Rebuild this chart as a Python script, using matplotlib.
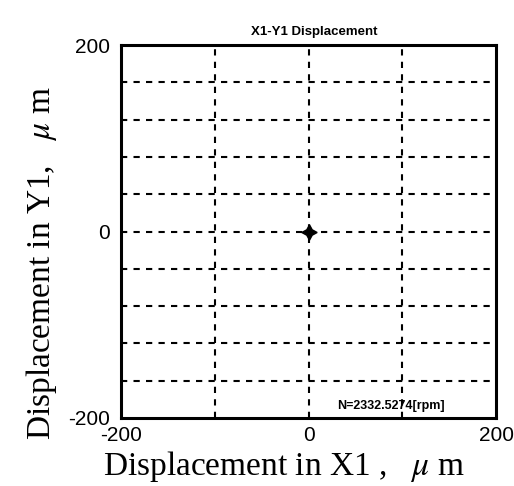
import numpy as np
import matplotlib
matplotlib.use('Agg')
import matplotlib.pyplot as plt

plt.rcParams['mathtext.fontset'] = 'stix'
plt.rcParams['axes.unicode_minus'] = False

# orbit data (the shaft sits at the origin)
x_disp = [0.0]
y_disp = [0.0]

x_ticks = [-200, 0, 200]
y_ticks = [-200, 0, 200]
x_grid = [-100, 0, 100]
y_grid = list(range(-160, 200, 40))

title = 'X1-Y1 Displacement'
note = 'N=2332.5274[rpm]'

fig = plt.figure(figsize=(5.14, 4.86), dpi=100)
ax = fig.add_axes([0.2354, 0.140, 0.7296, 0.767])

for g in x_grid:
    ax.axvline(g, color='black', linestyle=(0, (3, 3)), linewidth=1.5, zorder=1)
for g in y_grid:
    ax.axhline(g, color='black', linestyle=(0, (3, 3)), linewidth=1.5, zorder=1)

ax.plot(x_disp, y_disp, marker=(4, 1, 0), markersize=11, color='black', linestyle='none', zorder=3)
ax.plot(x_disp, y_disp, marker='o', markersize=4, color='black', linestyle='none', zorder=3)

ax.set_xlim(-200, 200)
ax.set_ylim(-200, 200)
ax.set_xticks(x_ticks)
ax.set_yticks(y_ticks)
ax.tick_params(length=0, labelsize=15)
ax.tick_params(axis='x', pad=6)
ax.tick_params(axis='y', pad=8)
for lab in ax.get_xticklabels() + ax.get_yticklabels():
    lab.set_family('Liberation Sans')
for s in ax.spines.values():
    s.set_linewidth(2.2)

xl = ax.set_xlabel('Displacement in X1 ,   $\\mathit{\\mu}$ m', family='Liberation Serif', fontsize=24)
yl = ax.set_ylabel('Displacement in Y1,   $\\mathit{\\mu}$ m', family='Liberation Serif', fontsize=24)
xl.set_va('baseline')
yl.set_va('baseline')
ax.xaxis.set_label_coords(0.436, -0.152)
ax.yaxis.set_label_coords(-0.19, 0.416)

fig.text(0.611, 0.934, title, fontsize=9.5, fontweight='bold', ha='center', va='center', family='Liberation Sans')
ax.text(88, -187, note, fontsize=9, fontweight='bold', ha='center', va='center', family='Liberation Sans')

plt.savefig('out.png', dpi=100)
